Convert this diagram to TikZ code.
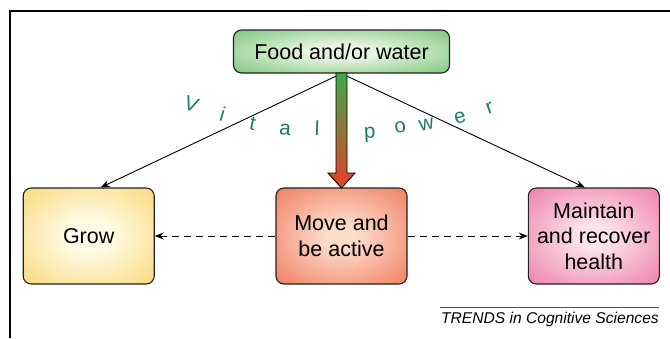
\documentclass[tikz,border=0pt]{standalone}
\usepackage{fontspec}
\setmainfont{Liberation Sans}
\usetikzlibrary{arrows.meta,calc}
\definecolor{growin}{HTML}{FFFBE6}
\definecolor{growout}{HTML}{F8D163}
\definecolor{movein}{HTML}{FCDCCB}
\definecolor{moveout}{HTML}{EE6A4A}
\definecolor{mainin}{HTML}{FCE3EC}
\definecolor{mainout}{HTML}{EB6B9C}
\definecolor{foodin}{HTML}{E8F5E2}
\definecolor{foodout}{HTML}{5DB95D}
\definecolor{arrgreen}{HTML}{3AAA48}
\definecolor{arrred}{HTML}{E8402A}
\definecolor{vital}{HTML}{1A7D6C}
\definecolor{boxline}{HTML}{222222}
\pgfdeclareradialshading{growshade}{\pgfpoint{0bp}{0bp}}{color(0bp)=(growin); color(8bp)=(growin); color(42bp)=(growout); color(50bp)=(growout)}
\pgfdeclareradialshading{moveshade}{\pgfpoint{0bp}{0bp}}{color(0bp)=(movein); color(6bp)=(movein); color(42bp)=(moveout); color(50bp)=(moveout)}
\pgfdeclareradialshading{mainshade}{\pgfpoint{0bp}{0bp}}{color(0bp)=(mainin); color(6bp)=(mainin); color(42bp)=(mainout); color(50bp)=(mainout)}
\pgfdeclareradialshading{foodshade}{\pgfpoint{0bp}{0bp}}{color(0bp)=(foodin); color(8bp)=(foodin); color(44bp)=(foodout); color(50bp)=(foodout)}
\tikzset{
  box/.style={draw=boxline, line width=1.1pt, rounded corners=8pt, minimum width=131pt, minimum height=96pt, inner sep=0pt, align=center, font=\fontsize{21.5}{25.5}\selectfont},
  conn/.style={line width=0.9pt, -{Stealth[length=9pt,width=7pt,inset=3pt]}},
  dashconn/.style={line width=0.9pt, dash pattern=on 7pt off 5pt, -{Stealth[length=9pt,width=7pt,inset=3pt]}},
  vl/.style={text=vital, anchor=base, inner sep=0pt, font=\fontsize{20.5}{24}\selectfont}
}
\begin{document}
\begin{tikzpicture}[x=1pt,y=-1pt]
\useasboundingbox (0,0) rectangle (670,338);
\fill[white] (0,0) rectangle (670,338);
\draw[line width=2pt] (10,338) -- (10,11) -- (670,11);

\node[box, shading=growshade, shade] (grow) at (88.7,236) {Grow};
\node[box, shading=moveshade, shade] (move) at (341.5,236) {Move and\\be active};
\node[box, shading=mainshade, shade] (maint) at (593.8,236) {Maintain\\and recover\\health};
\node[box, shading=foodshade, shade, minimum width=216pt, minimum height=43pt] (food) at (341.5,51.5) {Food and/or water};

\draw[conn] (food.south) -- ([xshift=12pt]grow.north);
\draw[conn] (food.south) -- ([xshift=-9pt]maint.north);

\draw[line width=0.9pt, draw=black, top color=arrgreen, bottom color=arrred]
  (336,73) -- (336,173) -- (328,173) -- (341.5,188) -- (355,173) -- (347,173) -- (347,73) -- cycle;

\draw[dashconn] (move.west) -- (grow.east);
\draw[dashconn] (move.east) -- (maint.west);

\node[vl, rotate=-20] (l1) at (189,111) {V};
\node[vl, rotate=-17] (l2) at (220.5,121) {i};
\node[vl, rotate=-12] (l3) at (251.5,130) {t};
\node[vl, rotate=-6] (l4) at (284.5,135) {a};
\node[vl, rotate=-2] (l5) at (317,136) {l};
\node[vl, rotate=3] (l6) at (370,138) {p};
\node[vl, rotate=8] (l7) at (401,133) {o};
\node[vl, rotate=12] (l8) at (427.5,130) {w};
\node[vl, rotate=16] (l9) at (461.5,123) {e};
\node[vl, rotate=20] (l10) at (491.5,113) {r};

\draw[line width=0.8pt, draw=black!70] (440,307) -- (659,307);
\node[anchor=base east, inner sep=0pt, font=\fontsize{15.6}{18}\selectfont\itshape] (trends) at (659,323) {TRENDS in Cognitive Sciences};
\end{tikzpicture}
\end{document}
